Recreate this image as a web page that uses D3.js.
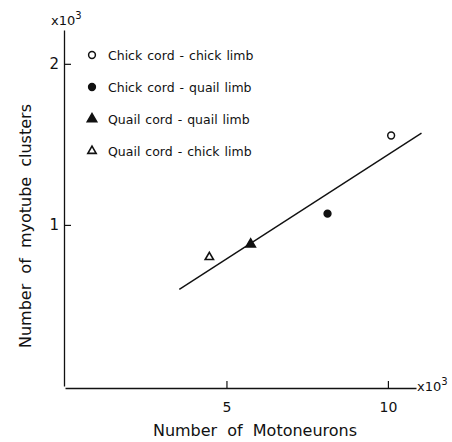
<!DOCTYPE html>
<html>
<head>
<meta charset="utf-8">
<script src="https://cdn.jsdelivr.net/npm/d3@7"></script>
<style>
  body { margin: 0; background: #fff; }
  text { font-family: "DejaVu Sans", sans-serif; fill: #111; }
</style>
</head>
<body>
<figure id="chart" style="margin:0"></figure>
<script>
// values (both axes in thousands)
const groups = ['Chick cord - chick limb', 'Chick cord - quail limb',
  'Quail cord - quail limb', 'Quail cord - chick limb'];
const symbols = ['openCircle', 'filledCircle', 'filledTriangle', 'openTriangle'];
const motoneurons = [10.1, 8.13, 5.75, 4.47];
const clusters = [1.555, 1.07, 0.88, 0.80];
const fitX = [3.54, 11.04];
const fitY = [0.60, 1.57];
const xTicks = [5, 10];
const yTicks = [1, 2];

const width = 452;
const height = 442;

const svg = d3.select('figure#chart')
  .append('svg')
  .attr('width', width)
  .attr('height', height);

const x = d3.scaleLinear().domain([0, 10.87]).range([65, 416]);
const y = d3.scaleLinear().domain([0, 2.21]).range([386, 30]);

// x axis: ticks point inward (up)
svg.append('g')
  .attr('transform', 'translate(0,388)')
  .call(d3.axisBottom(x).tickValues(xTicks).tickFormat(d3.format('d'))
    .tickSize(-7).tickPadding(14).tickSizeOuter(0))
  .call(g => g.select('.domain').attr('stroke', '#111').attr('stroke-width', 1.3))
  .call(g => g.selectAll('.tick line').attr('stroke', '#111').attr('stroke-width', 1.2))
  .call(g => g.selectAll('.tick text').attr('font-size', 14).attr('font-family', '"DejaVu Sans", sans-serif'));

// y axis: ticks point inward (right)
svg.append('g')
  .attr('transform', 'translate(64,0)')
  .call(d3.axisLeft(y).tickValues(yTicks).tickFormat(d3.format('d'))
    .tickSize(-7).tickPadding(5).tickSizeOuter(0))
  .call(g => g.select('.domain').attr('stroke', '#111').attr('stroke-width', 1.3))
  .call(g => g.selectAll('.tick line').attr('stroke', '#111').attr('stroke-width', 1.2))
  .call(g => g.selectAll('.tick text').attr('font-size', 15).attr('font-family', '"DejaVu Sans", sans-serif'));

// multiplier labels
function mult(xp, yp) {
  const t = svg.append('text').attr('x', xp).attr('y', yp).attr('font-size', 13);
  t.append('tspan').text('x10');
  t.append('tspan').attr('dy', -6).attr('font-size', 10).text('3');
}
mult(51, 25);
mult(417, 391);

// axis titles
svg.append('text')
  .attr('x', 255).attr('y', 436)
  .attr('text-anchor', 'middle')
  .attr('font-size', 16)
  .attr('word-spacing', 5)
  .text('Number of Motoneurons');

svg.append('text')
  .attr('transform', 'translate(31,226) rotate(-90)')
  .attr('text-anchor', 'middle')
  .attr('font-size', 16)
  .attr('word-spacing', 5)
  .text('Number of myotube clusters');

// fitted line
const line = d3.line().x(d => x(d[0])).y(d => y(d[1]));
svg.append('path')
  .datum(d3.zip(fitX, fitY))
  .attr('d', line)
  .attr('fill', 'none')
  .attr('stroke', '#111')
  .attr('stroke-width', 1.4);

function marker(g, kind) {
  if (kind === 'openCircle' || kind === 'filledCircle') {
    g.append('circle').attr('r', 3.4)
      .attr('fill', kind === 'filledCircle' ? '#111' : '#fff')
      .attr('stroke', '#111').attr('stroke-width', 1.5);
  } else {
    g.append('path')
      .attr('d', d3.symbol(d3.symbolTriangle, kind === 'filledTriangle' ? 38 : 30)())
      .attr('fill', kind === 'filledTriangle' ? '#111' : '#fff')
      .attr('stroke', '#111').attr('stroke-width', 1.6);
  }
}

// data points
const pts = d3.zip(motoneurons, clusters, symbols);
svg.selectAll('g.pt')
  .data(pts)
  .enter()
  .append('g')
  .attr('class', 'pt')
  .attr('transform', d => 'translate(' + x(d[0]) + ',' + y(d[1]) + ')')
  .each(function (d) { marker(d3.select(this), d[2]); });

// legend
const leg = svg.selectAll('g.leg')
  .data(groups)
  .enter()
  .append('g')
  .attr('class', 'leg')
  .attr('transform', (d, i) => 'translate(92,' + (55 + i * 32) + ')');
leg.each(function (d, i) { marker(d3.select(this), symbols[i]); });
leg.append('text')
  .attr('x', 16).attr('y', 4.5)
  .attr('font-size', 12.5)
  .attr('word-spacing', 1)
  .text(d => d);
</script>
</body>
</html>
